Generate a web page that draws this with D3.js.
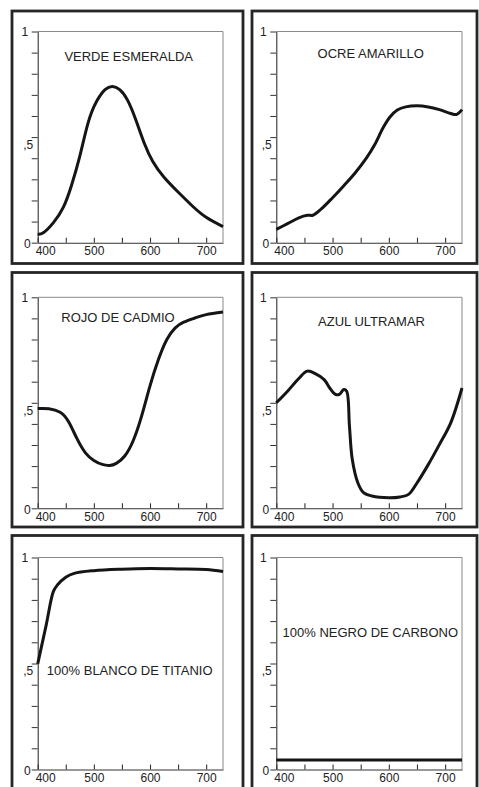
<!DOCTYPE html>
<html>
<head>
<meta charset="utf-8">
<script src="https://cdn.jsdelivr.net/npm/d3@7"></script>
<style>
html,body{margin:0;padding:0;background:#fff;}
svg{display:block;}
text{font-family:"Liberation Sans",Arial,sans-serif;fill:#222;}
</style>
</head>
<body>
<svg id="chart" width="479" height="787"></svg>
<script>
// ---- data ----
const titles = ["VERDE ESMERALDA","OCRE AMARILLO","ROJO DE CADMIO","AZUL ULTRAMAR","100% BLANCO DE TITANIO","100% NEGRO DE CARBONO"];
const xTicks = [400,450,500,550,600,650,700];
const xTickLabels = ["400","","500","","600","","700"];
const yTicks = [0,0.1,0.2,0.3,0.4,0.5,0.6,0.7,0.8,0.9,1];
const yTickLabels = ["0","","","","",",5","","","","","1"];

const verdeNm  = [400,410,428,446,460,475,490,505,520,533,546,560,575,590,605,625,650,675,700,730];
const verdeVal = [0.04,0.047,0.095,0.17,0.27,0.41,0.57,0.67,0.725,0.74,0.725,0.675,0.58,0.47,0.385,0.31,0.24,0.175,0.12,0.076];

const ocreNm  = [400,420,440,455,465,480,500,520,540,560,575,590,602,615,630,650,670,690,710,720,730];
const ocreVal = [0.063,0.09,0.118,0.13,0.13,0.16,0.213,0.27,0.33,0.40,0.465,0.545,0.595,0.628,0.643,0.648,0.643,0.63,0.612,0.607,0.63];

const rojoNm  = [400,420,440,455,470,485,500,515,528,540,555,570,585,600,615,630,645,660,680,700,730];
const rojoVal = [0.473,0.472,0.455,0.41,0.33,0.263,0.227,0.208,0.203,0.213,0.248,0.32,0.437,0.58,0.705,0.80,0.855,0.882,0.902,0.918,0.93];

const azulNm  = [400,420,440,455,470,485,495,505,512,520,525,530,535,545,555,570,600,620,635,650,670,690,710,730];
const azulVal = [0.50,0.555,0.615,0.65,0.637,0.61,0.57,0.54,0.54,0.563,0.555,0.39,0.232,0.12,0.074,0.058,0.05,0.054,0.066,0.12,0.207,0.303,0.405,0.57];

const blancoNm  = [400,415,428,435,450,465,500,550,600,650,700,730];
const blancoVal = [0.498,0.68,0.84,0.87,0.907,0.925,0.938,0.945,0.948,0.946,0.943,0.934];

const negroNm  = [400,730];
const negroVal = [0.045,0.045];

const seriesNm  = [verdeNm, ocreNm, rojoNm, azulNm, blancoNm, negroNm];
const seriesVal = [verdeVal, ocreVal, rojoVal, azulVal, blancoVal, negroVal];

// ---- layout ----
const colPlotX = [[37.7,223],[276.3,462]];
const rowPlotY = [[31.5,242.7],[297.3,508.3],[557.5,769.5]];
const colFrameX = [[12,243],[252,477]];
const rowFrameY = [[11,263.5],[272.5,527],[535.5,800]];
const titlePos = [[128.7,61],[370.7,58.3],[118,321.7],[371.5,326],[129.7,675],[370.3,637.3]];
const curves = [d3.curveNatural, d3.curveCatmullRom.alpha(0.5), d3.curveNatural,
                d3.curveCatmullRom.alpha(0.5), d3.curveCatmullRom.alpha(0.5), d3.curveLinear];

const svg = d3.select("#chart");

titles.forEach((title, i) => {
  const c = i % 2, r = Math.floor(i / 2);
  // frame
  svg.append("rect")
    .attr("x", colFrameX[c][0]).attr("y", rowFrameY[r][0])
    .attr("width", colFrameX[c][1]-colFrameX[c][0])
    .attr("height", rowFrameY[r][1]-rowFrameY[r][0])
    .attr("fill","none").attr("stroke","#262626").attr("stroke-width",2.8);

  const x = d3.scaleLinear().domain([400,730]).range(colPlotX[c]);
  const y = d3.scaleLinear().domain([0,1]).range([rowPlotY[r][1], rowPlotY[r][0]]);

  const g = svg.append("g");
  // top and right border
  g.append("path")
    .attr("d", `M${x(400)},${y(1)}H${x(730)}V${y(0)}`)
    .attr("fill","none").attr("stroke","#8a8a8a").attr("stroke-width",1);

  // x axis
  const xa = g.append("g").attr("transform",`translate(0,${y(0)})`)
    .call(d3.axisBottom(x).tickValues(xTicks)
      .tickFormat((d,k)=>xTickLabels[k]).tickSizeInner(-5).tickSizeOuter(0));
  xa.select(".domain").attr("stroke","#333").attr("stroke-width",1.1);
  xa.selectAll(".tick line").attr("stroke","#333").attr("stroke-width",1.1);
  xa.selectAll(".tick text").attr("y",12.3).attr("dy",0)
    .attr("font-size",12).attr("font-family","Liberation Sans, Arial, sans-serif").attr("fill","#222")
    .attr("dx",d=>d===400?7.5:0);

  // y axis
  const ya = g.append("g").attr("transform",`translate(${x(400)},0)`)
    .call(d3.axisLeft(y).tickValues(yTicks)
      .tickFormat((d,k)=>yTickLabels[k]).tickSizeInner(6).tickSizeOuter(0));
  ya.select(".domain").attr("stroke","#333").attr("stroke-width",1.1);
  ya.selectAll(".tick line").attr("stroke","#333").attr("stroke-width",1);
  ya.selectAll(".tick text")
    .attr("font-size",12).attr("font-family","Liberation Sans, Arial, sans-serif").attr("fill","#222")
    .each(function(d){
      const t = d3.select(this);
      if (Math.abs(d-0.5)<1e-6) t.attr("x",-4.5).attr("dy","0.95em");
      else if (d===0) t.attr("x",-7).attr("dy","0.42em");
      else t.attr("x",-9.5).attr("dy","0.32em");
    });

  // curve
  const pts = seriesNm[i].map((nm,k)=>[nm, seriesVal[i][k]]);
  const line = d3.line().x(d=>x(d[0])).y(d=>y(d[1])).curve(curves[i]);
  g.append("path").datum(pts).attr("d", line)
    .attr("fill","none").attr("stroke","#151515").attr("stroke-width",3)
    .attr("stroke-linejoin","round").attr("stroke-linecap","butt");

  // title
  svg.append("text").attr("x",titlePos[i][0]).attr("y",titlePos[i][1])
    .attr("text-anchor","middle").attr("font-size",13).text(title);
});
</script>
</body>
</html>
